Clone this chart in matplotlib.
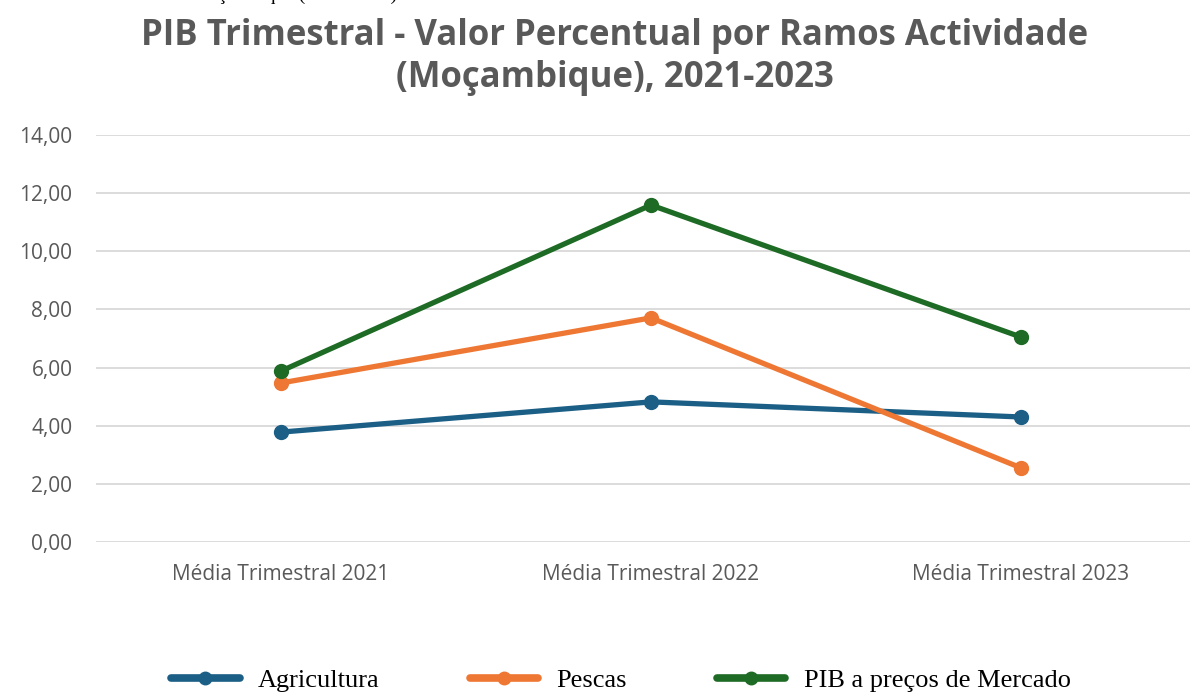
import numpy as np
import matplotlib
matplotlib.use("Agg")
import matplotlib.pyplot as plt
from matplotlib.ticker import FuncFormatter

# data
categorias = ["Média Trimestral 2021", "Média Trimestral 2022", "Média Trimestral 2023"]
agricultura = [3.78, 4.82, 4.30]
pescas = [5.47, 7.71, 2.55]
pib_mercado = [5.88, 11.59, 7.05]
series_nomes = ["Agricultura", "Pescas", "PIB a preços de Mercado"]
cores = ["#1C5F86", "#EE7733", "#1E6B25"]
yticks = [0, 2, 4, 6, 8, 10, 12, 14]

W, H = 1190, 695
fig = plt.figure(figsize=(W / 100, H / 100), dpi=100)
ax = fig.add_axes([96 / W, (H - 542) / H, 1110 / W, 407 / H])

x = np.arange(len(categorias))
for vals, nome, cor in zip([agricultura, pescas, pib_mercado], series_nomes, cores):
    ax.plot(x, vals, color=cor, lw=3.8, marker="o", ms=10, label=nome,
            solid_capstyle="round", clip_on=False)

ax.set_xlim(-0.5, 2.5)
ax.set_ylim(0, 14)
ax.set_yticks(yticks)
ax.yaxis.set_major_formatter(FuncFormatter(lambda v, p: f"{v:.2f}".replace(".", ",")))
ax.set_xticks(x)
ax.set_xticklabels(categorias)
ax.grid(axis="y", color="#D9D9D9", lw=1.3)
ax.set_axisbelow(True)
for s in ax.spines.values():
    s.set_visible(False)
ax.tick_params(length=0, colors="#595959", labelsize=15)
ax.tick_params(axis="y", pad=17)
ax.tick_params(axis="x", pad=16)
for lab in ax.get_xticklabels() + ax.get_yticklabels():
    lab.set_fontfamily("Open Sans")

fig.text(615 / W, 1 - 57 / H, "PIB Trimestral - Valor Percentual por Ramos Actividade\n(Moçambique), 2021-2023",
         ha="center", va="center", fontsize=25, fontweight="bold", color="#595959",
         family="Open Sans", linespacing=1.2)

# caption cut off at the very top of the image (only descenders visible)
fig.text(0.0, 1.0, "Gráfico: PIB Trimestral Moçambique (2021-2023)", ha="left", va="baseline",
         fontsize=14, family="Liberation Serif", color="black")

leg = fig.legend(loc="center", bbox_to_anchor=(621 / W, 1 - 680 / H), ncol=3, frameon=False,
                 handlelength=2.6, columnspacing=3.4, handletextpad=0.7,
                 prop={"family": "Liberation Serif", "size": 19})
for ln in leg.get_lines():
    ln.set_linewidth(5.5)
    ln.set_markersize(9)

fig.savefig("out.png", dpi=100)
